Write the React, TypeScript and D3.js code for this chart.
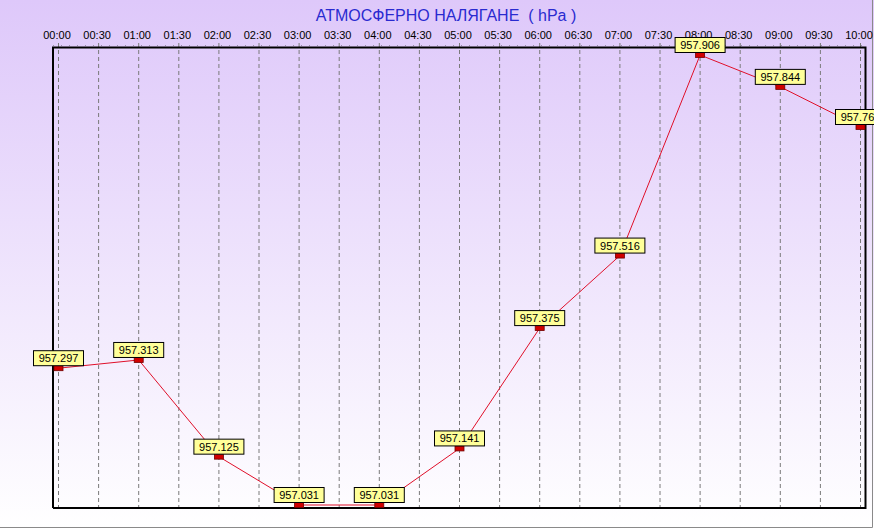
import * as d3 from "d3"
import { useEffect, useRef } from "react"

const W = 874
const H = 529

const title = "АТМОСФЕРНО НАЛЯГАНЕ  ( hPa )"

// half-hour tick labels along the top
const tickLabels = [
  "00:00", "00:30", "01:00", "01:30", "02:00", "02:30", "03:00", "03:30",
  "04:00", "04:30", "05:00", "05:30", "06:00", "06:30", "07:00", "07:30",
  "08:00", "08:30", "09:00", "09:30", "10:00",
]

// hourly readings
const times = [
  "00:00", "01:00", "02:00", "03:00", "04:00", "05:00",
  "06:00", "07:00", "08:00", "09:00", "10:00",
]
const pressure = [
  957.297, 957.313, 957.125, 957.031, 957.031, 957.141,
  957.375, 957.516, 957.906, 957.844, 957.766,
]

const FONT = "'Liberation Sans', Arial, sans-serif"

const App = () => {
  const svgRef = useRef<SVGSVGElement | null>(null)

  useEffect(() => {
    if (!svgRef.current) return
    const svg = d3.select(svgRef.current)
    svg.selectAll("*").remove()

    const frame = { left: 53, top: 47.5, right: 865.5, bottom: 508 }

    // background gradient
    const defs = svg.append("defs")
    const grad = defs
      .append("linearGradient")
      .attr("id", "bg")
      .attr("x1", 0)
      .attr("y1", 0)
      .attr("x2", 0)
      .attr("y2", 1)
    grad.append("stop").attr("offset", "0%").attr("stop-color", "#dec8fa")
    grad.append("stop").attr("offset", "100%").attr("stop-color", "#ffffff")

    svg
      .append("rect")
      .attr("width", W)
      .attr("height", H)
      .attr("fill", "url(#bg)")

    // outer border (right + bottom)
    svg
      .append("path")
      .attr("d", `M${W - 1.5},0 V${H - 1.5} H0`)
      .attr("fill", "none")
      .attr("stroke", "#8a8a8a")
      .attr("stroke-width", 1)

    const x = d3.scalePoint<string>().domain(tickLabels).range([58, 860])

    const [minV, maxV] = d3.extent(pressure) as [number, number]
    const y = d3.scaleLinear().domain([minV, maxV]).range([505, 55])

    // title
    svg
      .append("text")
      .attr("x", 446)
      .attr("y", 21)
      .attr("text-anchor", "middle")
      .style("font", `16px ${FONT}`)
      .style("white-space", "pre")
      .attr("fill", "#2a2ad0")
      .text(title)

    // top axis labels
    const xAxis = d3.axisTop(x).tickSize(0).tickPadding(0)
    const gx = svg
      .append("g")
      .attr("transform", `translate(-1.5,39)`)
      .call(xAxis)
    gx.select(".domain").remove()
    gx.selectAll(".tick text")
      .attr("dy", 0)
      .attr("fill", "#000")
      .style("font", `11px ${FONT}`)

    // minor dots above frame
    svg
      .append("line")
      .attr("x1", frame.left)
      .attr("x2", frame.right)
      .attr("y1", 45.5)
      .attr("y2", 45.5)
      .attr("stroke", "#9a90aa")
      .attr("stroke-width", 1)
      .attr("stroke-dasharray", "1,7")

    // vertical dashed grid
    svg
      .append("g")
      .selectAll("line")
      .data(tickLabels)
      .enter()
      .append("line")
      .attr("x1", (d) => x(d)! + 0.5)
      .attr("x2", (d) => x(d)! + 0.5)
      .attr("y1", 43)
      .attr("y2", frame.bottom)
      .attr("stroke", "#7a7a7a")
      .attr("stroke-width", 1)
      .attr("stroke-dasharray", "4,3")

    // frame
    svg
      .append("path")
      .attr(
        "d",
        `M${frame.left},${frame.bottom} V${frame.top} H${frame.right} V${frame.bottom} H${frame.left}`,
      )
      .attr("fill", "none")
      .attr("stroke", "#000")
      .attr("stroke-width", 2)

    const data = times.map((t, i) => ({ t, v: pressure[i] }))

    // line
    const line = d3
      .line<{ t: string; v: number }>()
      .x((d) => x(d.t)! + 0.5)
      .y((d) => y(d.v))
    svg
      .append("path")
      .datum(data)
      .attr("d", line)
      .attr("fill", "none")
      .attr("stroke", "#e0102a")
      .attr("stroke-width", 1)

    // markers
    svg
      .append("g")
      .selectAll("rect")
      .data(data)
      .enter()
      .append("rect")
      .attr("x", (d) => x(d.t)! - 4)
      .attr("y", (d) => y(d.v) - 2.5)
      .attr("width", 9)
      .attr("height", 5)
      .attr("fill", "#d00000")
      .attr("stroke", "#700000")
      .attr("stroke-width", 0.8)

    // value labels
    const labels = svg
      .append("g")
      .selectAll("g")
      .data(data)
      .enter()
      .append("g")
      .attr("transform", (d) => `translate(${x(d.t)! + 0.5},${y(d.v) - 2.5})`)

    labels
      .append("rect")
      .attr("x", -25)
      .attr("y", -15)
      .attr("width", 50)
      .attr("height", 15)
      .attr("fill", "#ffff99")
      .attr("stroke", "#000")
      .attr("stroke-width", 1)

    labels
      .append("text")
      .attr("x", 0)
      .attr("y", -3.5)
      .attr("text-anchor", "middle")
      .style("font", `11px ${FONT}`)
      .attr("fill", "#000")
      .text((d) => d3.format(".3f")(d.v))
  }, [])

  return (
    <svg
      ref={svgRef}
      width={W}
      height={H}
      style={{ position: "absolute", left: 0, top: 0, display: "block" }}
    />
  )
}

export default App
